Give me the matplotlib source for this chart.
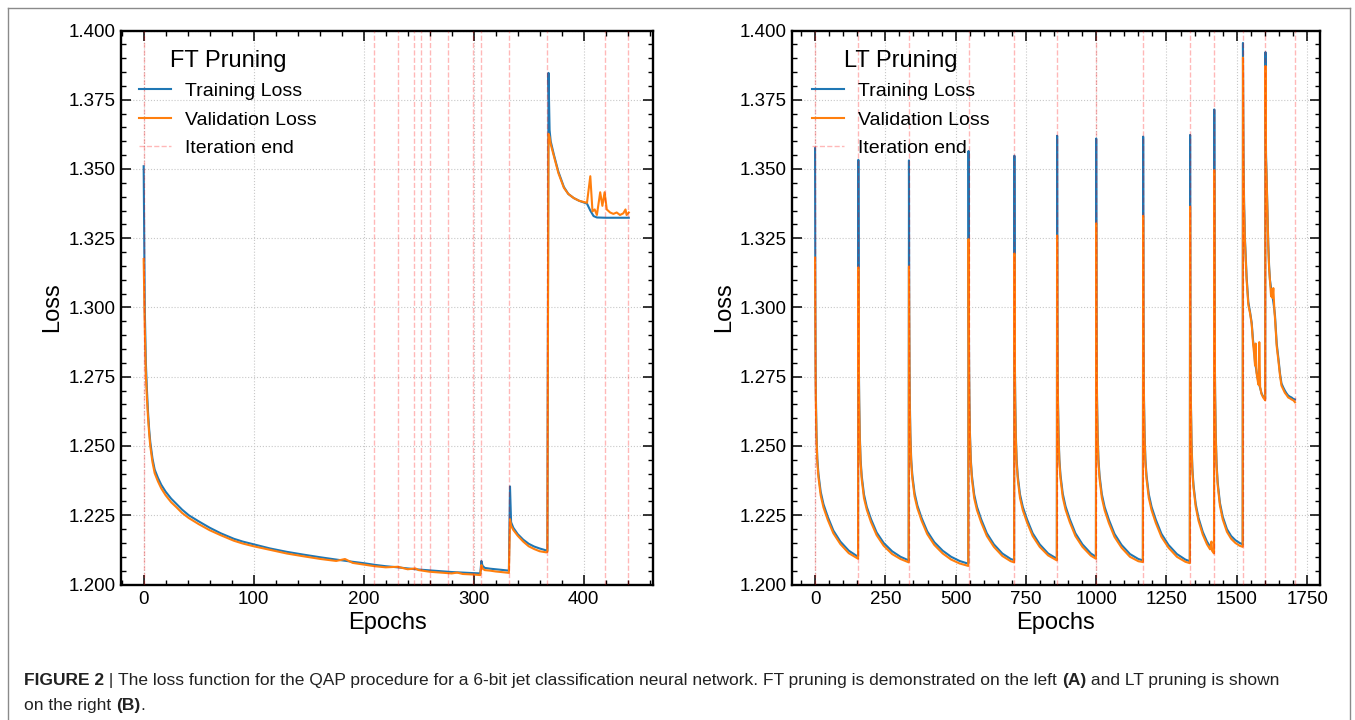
import matplotlib
matplotlib.use('Agg')
import matplotlib.pyplot as plt
from matplotlib.ticker import MultipleLocator, FormatStrFormatter
from matplotlib.lines import Line2D

plt.rcParams['font.family'] = ['Liberation Sans', 'DejaVu Sans']

# ---------------- FT pruning (left) ----------------
ft_train_epochs = [0, 1, 2, 3, 4, 5, 6, 8, 10, 13, 16, 20, 25, 30, 35, 41, 50, 60, 70, 82, 90,
                   100, 115, 130, 145, 161, 175, 190, 200, 210, 220, 231, 240, 250, 260, 270,
                   280, 290, 300, 306, 307, 308, 310, 315, 320, 325, 332, 333, 334, 336, 340,
                   345, 350, 355, 360, 366, 367, 368, 369, 370, 373, 377, 382, 386, 391, 396,
                   403, 406, 409, 412, 420, 430, 441]
ft_train = [1.3510, 1.3000, 1.2800, 1.2700, 1.2620, 1.2560, 1.2515, 1.2455, 1.2415, 1.2385,
            1.2360, 1.2335, 1.2310, 1.2290, 1.2270, 1.2250, 1.2228, 1.2205, 1.2185, 1.2165,
            1.2155, 1.2145, 1.2130, 1.2118, 1.2108, 1.2098, 1.2090, 1.2082, 1.2077, 1.2071,
            1.2066, 1.2062, 1.2058, 1.2054, 1.2051, 1.2048, 1.2045, 1.2043, 1.2041, 1.2040,
            1.2085, 1.2068, 1.2060, 1.2057, 1.2055, 1.2053, 1.2050, 1.2354, 1.2225, 1.2205,
            1.2182, 1.2162, 1.2147, 1.2137, 1.2130, 1.2123, 1.2122, 1.3847, 1.3640, 1.3600,
            1.3550, 1.3490, 1.3435, 1.3410, 1.3395, 1.3385, 1.3375, 1.3350, 1.3330, 1.3325,
            1.3324, 1.3324, 1.3324]

ft_val_epochs = [0, 1, 2, 3, 4, 5, 6, 8, 10, 13, 16, 20, 25, 30, 35, 41, 50, 60, 70, 82, 90,
                 100, 115, 130, 145, 161, 175, 183, 190, 200, 210, 220, 231, 240, 247, 250,
                 260, 270, 280, 285, 290, 300, 306, 307, 308, 310, 315, 320, 325, 332, 333,
                 334, 336, 340, 345, 350, 355, 360, 366, 367, 368, 369, 370, 373, 377, 382,
                 386, 391, 396, 403, 406, 408, 410, 412, 415, 417, 419, 421, 424, 427, 430,
                 433, 436, 438, 439, 441]
ft_val = [1.3175, 1.2930, 1.2760, 1.2670, 1.2600, 1.2545, 1.2500, 1.2442, 1.2402, 1.2372,
          1.2347, 1.2322, 1.2297, 1.2278, 1.2258, 1.2240, 1.2218, 1.2196, 1.2178, 1.2158,
          1.2148, 1.2138, 1.2125, 1.2112, 1.2102, 1.2092, 1.2085, 1.2092, 1.2078, 1.2072,
          1.2066, 1.2062, 1.2064, 1.2055, 1.2058, 1.2052, 1.2046, 1.2043, 1.2040, 1.2043,
          1.2038, 1.2036, 1.2034, 1.2070, 1.2058, 1.2052, 1.2050, 1.2047, 1.2045, 1.2042,
          1.2236, 1.2212, 1.2197, 1.2176, 1.2155, 1.2138, 1.2128, 1.2120, 1.2116, 1.2118,
          1.3627, 1.3615, 1.3590, 1.3545, 1.3485, 1.3432, 1.3410, 1.3395, 1.3385, 1.3378,
          1.3474, 1.3347, 1.3354, 1.3334, 1.3416, 1.3367, 1.3416, 1.3354, 1.3343, 1.3338,
          1.3343, 1.3334, 1.3340, 1.3354, 1.3334, 1.3343]

ft_iteration_ends = [0, 209.5, 231, 246, 252, 260, 277, 299, 307, 332, 367, 419, 440]

# ---------------- LT pruning (right) ----------------
lt_epochs = [
    0, 1, 2, 3, 5, 8, 12, 20, 30, 45, 65, 90, 120, 153,
    154, 155, 156, 157, 159, 162, 166, 174, 184, 199, 219, 244, 274, 304, 333,
    334, 335, 336, 337, 339, 342, 346, 354, 364, 379, 399, 424, 454, 484, 514, 545,
    546, 547, 548, 549, 551, 554, 558, 566, 576, 591, 611, 636, 666, 696, 708,
    709, 710, 711, 712, 714, 717, 721, 729, 739, 754, 774, 799, 829, 860,
    861, 862, 863, 864, 866, 869, 873, 881, 891, 906, 926, 951, 981, 999,
    1000, 1001, 1002, 1003, 1005, 1008, 1012, 1020, 1030, 1045, 1065, 1090, 1120, 1150, 1166,
    1167, 1168, 1169, 1170, 1172, 1175, 1179, 1187, 1197, 1212, 1232, 1257, 1287, 1317, 1333,
    1334, 1335, 1336, 1337, 1339, 1342, 1346, 1354, 1364, 1379, 1394, 1405, 1410, 1412, 1419,
    1420, 1421, 1422, 1423, 1425, 1428, 1432, 1440, 1450, 1465, 1480, 1495, 1510, 1521,
    1522, 1523, 1524, 1526, 1529, 1532, 1535, 1541, 1547, 1553, 1558, 1562, 1565, 1567, 1570,
    1576, 1578, 1580, 1583, 1588, 1594, 1601,
    1602, 1603, 1604, 1606, 1609, 1612, 1615, 1618, 1622, 1624, 1627, 1630, 1634, 1636, 1642,
    1648, 1654, 1659, 1665, 1671, 1677, 1683, 1689, 1695, 1701, 1707]
lt_train = [
    1.3575, 1.3000, 1.2790, 1.2680, 1.2550, 1.2455, 1.2400, 1.2335, 1.2290, 1.2245, 1.2195, 1.2155, 1.2122, 1.2100,
    1.3533, 1.2985, 1.2780, 1.2670, 1.2545, 1.2450, 1.2392, 1.2325, 1.2280, 1.2236, 1.2188, 1.2150, 1.2120, 1.2100, 1.2087,
    1.3531, 1.2985, 1.2780, 1.2670, 1.2545, 1.2452, 1.2395, 1.2330, 1.2285, 1.2240, 1.2192, 1.2153, 1.2122, 1.2100, 1.2085, 1.2075,
    1.3565, 1.2990, 1.2780, 1.2670, 1.2545, 1.2450, 1.2392, 1.2325, 1.2280, 1.2235, 1.2185, 1.2145, 1.2112, 1.2092, 1.2088,
    1.3548, 1.2990, 1.2780, 1.2670, 1.2545, 1.2450, 1.2392, 1.2325, 1.2280, 1.2235, 1.2185, 1.2145, 1.2112, 1.2093,
    1.3620, 1.2995, 1.2785, 1.2672, 1.2548, 1.2452, 1.2395, 1.2328, 1.2282, 1.2236, 1.2185, 1.2145, 1.2112, 1.2100,
    1.3610, 1.2995, 1.2785, 1.2672, 1.2548, 1.2452, 1.2393, 1.2326, 1.2280, 1.2234, 1.2183, 1.2143, 1.2110, 1.2092, 1.2087,
    1.3617, 1.2995, 1.2785, 1.2672, 1.2548, 1.2452, 1.2393, 1.2326, 1.2280, 1.2234, 1.2183, 1.2143, 1.2110, 1.2090, 1.2084,
    1.3623, 1.2990, 1.2770, 1.2650, 1.2520, 1.2420, 1.2360, 1.2290, 1.2240, 1.2190, 1.2155, 1.2137, 1.2130, 1.2128, 1.2118,
    1.3715, 1.3050, 1.2820, 1.2690, 1.2550, 1.2440, 1.2370, 1.2295, 1.2245, 1.2200, 1.2175, 1.2160, 1.2150, 1.2145,
    1.3955, 1.3700, 1.3550, 1.3380, 1.3250, 1.3180, 1.3110, 1.3020, 1.2985, 1.2945, 1.2880, 1.2850, 1.2800, 1.2790, 1.2770,
    1.2735, 1.2725, 1.2720, 1.2710, 1.2690, 1.2678, 1.2670,
    1.3922, 1.3700, 1.3550, 1.3480, 1.3350, 1.3230, 1.3150, 1.3100, 1.3070, 1.3060, 1.3040, 1.3020, 1.2990, 1.2970, 1.2870,
    1.2817, 1.2760, 1.2726, 1.2712, 1.2700, 1.2690, 1.2682, 1.2678, 1.2675, 1.2670, 1.2668]
lt_val = [
    1.3180, 1.2930, 1.2750, 1.2650, 1.2535, 1.2442, 1.2388, 1.2322, 1.2278, 1.2234, 1.2185, 1.2146, 1.2113, 1.2093,
    1.3145, 1.2920, 1.2740, 1.2640, 1.2530, 1.2438, 1.2380, 1.2312, 1.2270, 1.2225, 1.2178, 1.2140, 1.2110, 1.2092, 1.2080,
    1.3148, 1.2920, 1.2740, 1.2640, 1.2530, 1.2440, 1.2383, 1.2318, 1.2275, 1.2230, 1.2182, 1.2143, 1.2112, 1.2090, 1.2076, 1.2067,
    1.3247, 1.2930, 1.2745, 1.2645, 1.2532, 1.2440, 1.2380, 1.2312, 1.2268, 1.2224, 1.2175, 1.2136, 1.2103, 1.2084, 1.2080,
    1.3195, 1.2925, 1.2742, 1.2642, 1.2530, 1.2438, 1.2380, 1.2312, 1.2268, 1.2224, 1.2175, 1.2136, 1.2105, 1.2087,
    1.3260, 1.2935, 1.2748, 1.2645, 1.2533, 1.2440, 1.2383, 1.2315, 1.2270, 1.2225, 1.2175, 1.2136, 1.2104, 1.2093,
    1.3304, 1.2940, 1.2750, 1.2645, 1.2533, 1.2440, 1.2381, 1.2313, 1.2268, 1.2222, 1.2172, 1.2133, 1.2100, 1.2084, 1.2081,
    1.3331, 1.2945, 1.2752, 1.2646, 1.2533, 1.2440, 1.2381, 1.2313, 1.2268, 1.2222, 1.2172, 1.2133, 1.2100, 1.2082, 1.2077,
    1.3364, 1.2950, 1.2750, 1.2635, 1.2508, 1.2410, 1.2350, 1.2280, 1.2230, 1.2180, 1.2145, 1.2127, 1.2155, 1.2122, 1.2112,
    1.3496, 1.3010, 1.2800, 1.2675, 1.2538, 1.2430, 1.2360, 1.2285, 1.2235, 1.2190, 1.2165, 1.2150, 1.2140, 1.2136,
    1.3902, 1.3680, 1.3530, 1.3360, 1.3240, 1.3170, 1.3100, 1.3010, 1.2980, 1.2940, 1.2868, 1.2829, 1.2790, 1.2870, 1.2765,
    1.2726, 1.2720, 1.2875, 1.2713, 1.2688, 1.2675, 1.2665,
    1.3872, 1.3680, 1.3530, 1.3470, 1.3340, 1.3220, 1.3140, 1.3095, 1.3040, 1.3065, 1.3035, 1.3070, 1.2985, 1.2960, 1.2860,
    1.2808, 1.2752, 1.2718, 1.2705, 1.2692, 1.2684, 1.2675, 1.2672, 1.2668, 1.2665, 1.2658]

lt_iteration_ends = [0, 154, 334, 546, 709, 861, 1000, 1167, 1334, 1420, 1522, 1602, 1707]

y_ticks = [1.200, 1.225, 1.250, 1.275, 1.300, 1.325, 1.350, 1.375, 1.400]

caption_line1 = [("FIGURE 2", True), (" | ", False),
                 ("The loss function for the QAP procedure for a 6-bit jet classification neural network. "
                  "FT pruning is demonstrated on the left ", False),
                 ("(A)", True), (" and LT pruning is shown", False)]
caption_line2 = [("on the right ", False), ("(B)", True), (".", False)]

BLUE = '#1f77b4'
ORANGE = '#ff7f0e'

W, H = 1355, 720
fig = plt.figure(figsize=(W / 100, H / 100), dpi=100)
axL = fig.add_axes([121 / W, 135.5 / H, 532 / W, 554 / H])
axR = fig.add_axes([792 / W, 135.5 / H, 528 / W, 554 / H])


def style(ax, xmajor, xminor, xlim):
    ax.set_xlim(*xlim)
    ax.set_ylim(1.2, 1.4)
    ax.set_yticks(y_ticks)
    ax.yaxis.set_minor_locator(MultipleLocator(0.005))
    ax.yaxis.set_major_formatter(FormatStrFormatter('%.3f'))
    ax.xaxis.set_major_locator(MultipleLocator(xmajor))
    ax.xaxis.set_minor_locator(MultipleLocator(xminor))
    ax.tick_params(which='both', direction='in', top=True, right=True,
                   labelsize=13.5, colors='black')
    ax.tick_params(axis='x', which='major', pad=5)
    ax.tick_params(axis='y', which='major', pad=4)
    ax.tick_params(which='major', length=7.5, width=1.1)
    ax.tick_params(which='minor', length=3.8, width=1.0)
    for sp in ax.spines.values():
        sp.set_linewidth(1.7)
    ax.grid(True, which='major', color='#c8c8c8', linestyle=':', linewidth=0.8)
    ax.set_axisbelow(True)
    ax.set_xlabel('Epochs', fontsize=17)
    ax.set_ylabel('Loss', fontsize=17)
    ax.xaxis.set_label_coords(0.5, -0.05)
    ax.yaxis.set_label_coords(-0.108, 0.5)


def draw(ax, te, tv, ve, vv, ends, title, lx):
    ax.plot(te, tv, color=BLUE, lw=1.5, label='Training Loss', zorder=3)
    ax.plot(ve, vv, color=ORANGE, lw=1.5, label='Validation Loss', zorder=4)
    for i, e in enumerate(ends):
        ax.axvline(e, color='red', ls='--', lw=1.0, alpha=0.28,
                   label='Iteration end' if i == 0 else None, zorder=5)
    ax.legend(loc='upper left', bbox_to_anchor=(lx, 0.972), frameon=False,
              fontsize=14, title=title, title_fontsize=17,
              handlelength=1.65, handletextpad=0.75, labelspacing=0.55,
              borderpad=0.2, borderaxespad=0.0)


draw(axL, ft_train_epochs, ft_train, ft_val_epochs, ft_val, ft_iteration_ends, 'FT Pruning', 0.026)
style(axL, 100, 20, (-20.6, 463))
draw(axR, lt_epochs, lt_train, lt_epochs, lt_val, lt_iteration_ends, 'LT Pruning', 0.03)
style(axR, 250, 50, (-82, 1796))

# page frame
frame_c = '#8a8a8a'
fig.add_artist(Line2D([8 / W, 1350 / W], [1 - 8 / H, 1 - 8 / H], transform=fig.transFigure, color=frame_c, lw=1))
fig.add_artist(Line2D([8 / W, 8 / W], [0, 1 - 8 / H], transform=fig.transFigure, color=frame_c, lw=1))
fig.add_artist(Line2D([1350 / W, 1350 / W], [0, 1 - 8 / H], transform=fig.transFigure, color=frame_c, lw=1))

# caption
cap_font = ['Liberation Sans Narrow', 'Liberation Sans', 'DejaVu Sans']
cap_size = 12.5
cap_col = '#222222'


def place_line(parts, x_px, y_px):
    fig.canvas.draw()
    r = fig.canvas.get_renderer()
    x = x_px
    for txt, bold in parts:
        t = fig.text(x / W, 1 - y_px / H, txt, fontsize=cap_size, family=cap_font,
                     color=cap_col, fontweight='bold' if bold else 'normal',
                     va='baseline', ha='left')
        x = x + t.get_window_extent(renderer=r).width


place_line(caption_line1, 24, 685)
place_line(caption_line2, 24, 710)

fig.savefig('out.png', dpi=100)
